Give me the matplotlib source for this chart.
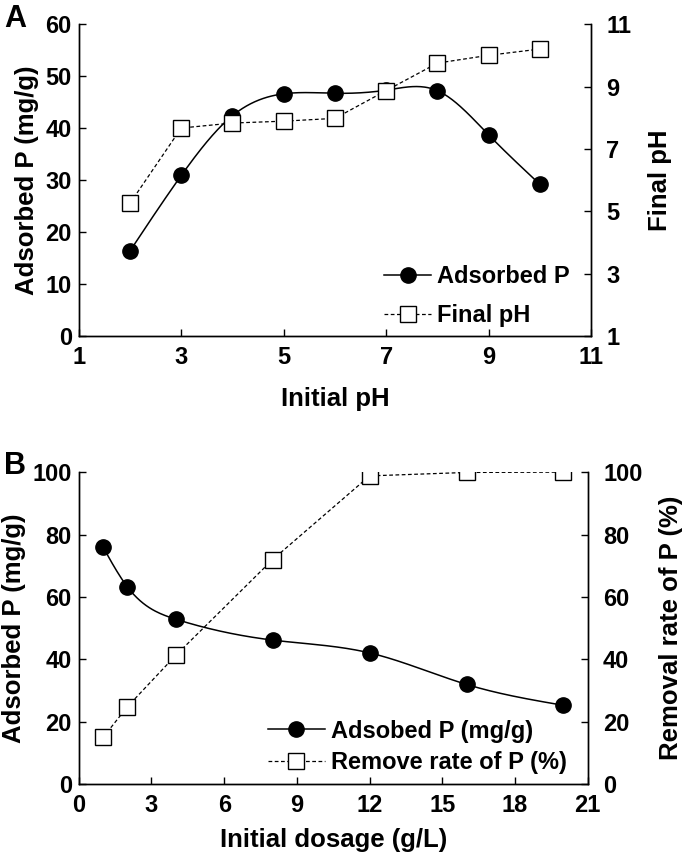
import numpy as np
import matplotlib.pyplot as plt
from matplotlib.lines import Line2D

plt.rcParams['font.family'] = ['Liberation Sans', 'DejaVu Sans']
plt.rcParams['font.weight'] = 'bold'

# panel A: effect of initial pH
ph_initial = [2, 3, 4, 5, 6, 7, 8, 9, 10]
ads_ph = [16.4, 30.9, 42.4, 46.6, 46.7, 47.3, 47.2, 38.7, 29.2]
ph_final = [5.26, 7.67, 7.83, 7.89, 7.98, 8.87, 9.75, 10.0, 10.2]

# panel B: effect of dosage
dosage = [1, 2, 4, 8, 12, 16, 20]
ads_dose = [76.0, 63.3, 52.9, 46.2, 42.1, 32.0, 25.3]
removal = [15.0, 24.8, 41.3, 72.0, 98.8, 99.9, 100.0]

TICK = 17
LAB = 18.5
LEG = 17


def smooth(x, y, n=300):
    # natural cubic spline through the points, only for drawing the curve
    x = np.asarray(x, float)
    y = np.asarray(y, float)
    k = len(x)
    h = np.diff(x)
    A = np.zeros((k, k))
    r = np.zeros(k)
    A[0, 0] = A[-1, -1] = 1
    for i in range(1, k - 1):
        A[i, i - 1] = h[i - 1]
        A[i, i] = 2 * (h[i - 1] + h[i])
        A[i, i + 1] = h[i]
        r[i] = 6 * ((y[i + 1] - y[i]) / h[i] - (y[i] - y[i - 1]) / h[i - 1])
    m = np.linalg.solve(A, r)
    xs = np.linspace(x[0], x[-1], n)
    idx = np.clip(np.searchsorted(x, xs) - 1, 0, k - 2)
    x0, x1 = x[idx], x[idx + 1]
    hh = x1 - x0
    a = (x1 - xs) / hh
    b = (xs - x0) / hh
    ys = (a * y[idx] + b * y[idx + 1]
          + ((a ** 3 - a) * m[idx] + (b ** 3 - b) * m[idx + 1]) * hh ** 2 / 6)
    return xs, ys


def style_axes(ax, ax2):
    ax.spines['top'].set_visible(False)
    ax2.spines['top'].set_visible(False)
    for a in (ax, ax2):
        for s in a.spines.values():
            s.set_linewidth(1.0)
        a.tick_params(direction='in', length=5, width=1.0, labelsize=TICK, pad=7)
    ax.tick_params(axis='y', pad=5)
    ax2.tick_params(axis='y', pad=11)


fig = plt.figure(figsize=(6.85, 8.6), dpi=100)

h1 = Line2D([], [], color='black', lw=1.1, marker='o', ms=11)
h2 = Line2D([], [], color='black', lw=0.9, ls=(0, (3, 2)), marker='s', ms=11,
            mfc='white', mec='black')

# ---- A ----
ax = fig.add_axes([0.115, 0.609, 0.748, 0.363])
ax2 = ax.twinx()
xs, ys = smooth(ph_initial, ads_ph)
ax.plot(xs, ys, color='black', lw=1.1)
ax.plot(ph_initial, ads_ph, 'o', color='black', ms=11, zorder=3)
ax2.plot(ph_initial, ph_final, color='black', lw=0.9, ls=(0, (3, 2)),
         marker='s', ms=11, mfc='white', mec='black', mew=1.0)
ax.set_xlim(1, 11)
ax.set_ylim(0, 60)
ax2.set_ylim(1, 11)
ax.set_xticks(range(1, 12, 2))
ax.set_yticks(range(0, 61, 10))
ax2.set_yticks(range(1, 12, 2))
ax.set_xlabel('Initial pH', fontsize=LAB, fontweight='bold', labelpad=13)
ax.set_ylabel('Adsorbed P (mg/g)', fontsize=LAB, fontweight='bold', labelpad=5)
ax2.set_ylabel('Final pH', fontsize=LAB, fontweight='bold', rotation=90, labelpad=12)
style_axes(ax, ax2)
ax.legend([h1, h2], ['Adsorbed P', 'Final pH'], loc='lower right',
          bbox_to_anchor=(1.0, -0.04), frameon=False, fontsize=LEG,
          handlelength=2.0, handletextpad=0.25, labelspacing=0.7)
fig.text(0.006, 0.978, 'A', fontsize=22, fontweight='bold', va='center')

# ---- B ----
bx = fig.add_axes([0.115, 0.088, 0.743, 0.363])
bx2 = bx.twinx()
xs, ys = smooth(dosage, ads_dose)
bx.plot(xs, ys, color='black', lw=1.1)
bx.plot(dosage, ads_dose, 'o', color='black', ms=11, zorder=3)
bx2.plot(dosage, removal, color='black', lw=0.9, ls=(0, (3, 2)),
         marker='s', ms=11, mfc='white', mec='black', mew=1.0)
bx.set_xlim(0, 21)
bx.set_ylim(0, 100)
bx2.set_ylim(0, 100)
bx.set_xticks(range(0, 22, 3))
bx.set_yticks(range(0, 101, 20))
bx2.set_yticks(range(0, 101, 20))
bx.set_xlabel('Initial dosage (g/L)', fontsize=LAB, fontweight='bold', labelpad=8)
bx.set_ylabel('Adsorbed P (mg/g)', fontsize=LAB, fontweight='bold', labelpad=5)
bx2.set_ylabel('Removal rate of P (%)', fontsize=LAB, fontweight='bold',
               rotation=90, labelpad=12)
style_axes(bx, bx2)
bx.legend([h1, h2], ['Adsobed P (mg/g)', 'Remove rate of P (%)'], loc='lower right',
          bbox_to_anchor=(1.0, -0.035), frameon=False, fontsize=LEG,
          handlelength=2.4, handletextpad=0.25, labelspacing=0.35)
fig.text(0.006, 0.458, 'B', fontsize=22, fontweight='bold', va='center')

fig.savefig('out.png', dpi=100)
